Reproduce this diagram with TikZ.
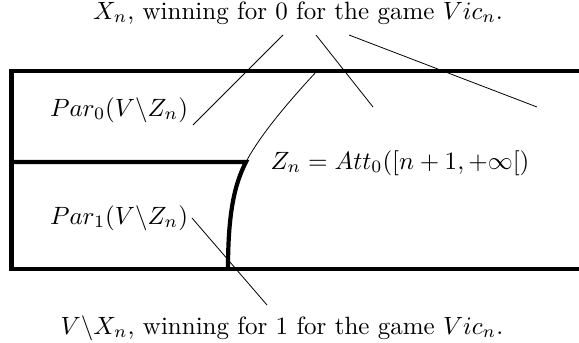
\documentclass[tikz,border=0pt]{standalone}
\usepackage{amsmath}
\usepackage{amssymb}
\usepackage{tikz}

\begin{document}
\begin{tikzpicture}[x=1pt, y=-1pt,
    lbl/.style={scale=2.5, inner sep=0pt, anchor=base},
    wall/.style={line width=4.2pt},
    ptr/.style={line width=0.8pt}]
    \useasboundingbox (0,0) rectangle (579,343);
    % the arena and its parts
    \draw[wall] (579,71) -- (11.5,71) -- (11.5,269) -- (579,269);
    \draw[wall] (11.5,162) -- (246,162) .. controls (234,185) and (228,215) .. (228,269);
    \draw[ptr] (317,71) .. controls (290,100) and (260,135) .. (246,162);
    % labels
    \node[lbl] (xtop) at (298,19) {$X_n$, winning for 0 for the game $Vic_n$.};
    \node[lbl] (xbot) at (282,334) {$V\backslash X_n$, winning for 1 for the game $Vic_n$.};
    \node[lbl] (par0) at (119,116) {$Par_0(V\backslash Z_n)$};
    \node[lbl] (par1) at (119,224) {$Par_1(V\backslash Z_n)$};
    \node[lbl] (zn) at (400,169) {$Z_n = Att_0([n+1,+\infty[)$};
    % free ends of the pointers
    \coordinate (a0) at (283,35);
    \coordinate (a1) at (193,125);
    \coordinate (b0) at (316,35);
    \coordinate (b1) at (373,107);
    \coordinate (c0) at (349,35);
    \coordinate (c1) at (537,107);
    \coordinate (e0) at (192,218);
    \coordinate (e1) at (267,305);
    \draw[ptr] (a0) -- (a1);
    \draw[ptr] (b0) -- (b1);
    \draw[ptr] (c0) -- (c1);
    \draw[ptr] (e0) -- (e1);
\end{tikzpicture}
\end{document}
